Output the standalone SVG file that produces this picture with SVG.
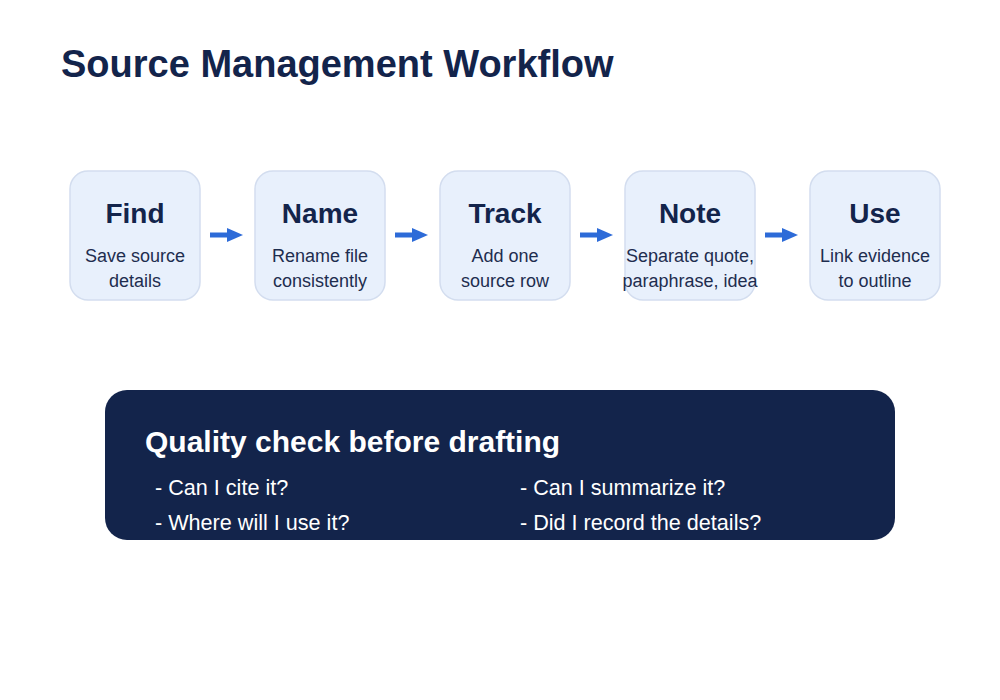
<svg xmlns="http://www.w3.org/2000/svg" width="1000" height="700" viewBox="0 0 1000 700">
  <defs>
    <style>
      .title { font-family: "Liberation Sans", Arial, sans-serif; font-weight: bold; font-size: 38px; fill: #13244b; }
      .node rect { fill: #e8f0fc; stroke: #d3ddef; stroke-width: 1.5; }
      .nt { font-family: "Liberation Sans", Arial, sans-serif; font-weight: bold; font-size: 28px; fill: #13244b; text-anchor: middle; }
      .ns { font-family: "Liberation Sans", Arial, sans-serif; font-size: 18px; fill: #1e2d4f; text-anchor: middle; }
      .conn line { stroke: #2d6bd8; stroke-width: 5; }
      .qt { font-family: "Liberation Sans", Arial, sans-serif; font-weight: bold; font-size: 30px; fill: #ffffff; }
      .qb { font-family: "Liberation Sans", Arial, sans-serif; font-size: 21.6px; fill: #ffffff; }
    </style>
    <marker id="ah" markerWidth="16" markerHeight="14" refX="0" refY="7" orient="auto" markerUnits="userSpaceOnUse">
      <path d="M0,0 L16,7 L0,14 Z" fill="#2d6bd8"/>
    </marker>
  </defs>
  <rect width="1000" height="700" fill="#ffffff"/>
  <text class="title" x="61" y="77">Source Management Workflow</text>

  <g id="node-find" class="node">
    <rect x="70" y="171" width="130" height="129" rx="18"/>
    <text class="nt" x="135" y="223">Find</text>
    <text class="ns" x="135" y="262">Save source</text>
    <text class="ns" x="135" y="287">details</text>
  </g>
  <g id="node-name" class="node">
    <rect x="255" y="171" width="130" height="129" rx="18"/>
    <text class="nt" x="320" y="223">Name</text>
    <text class="ns" x="320" y="262">Rename file</text>
    <text class="ns" x="320" y="287">consistently</text>
  </g>
  <g id="node-track" class="node">
    <rect x="440" y="171" width="130" height="129" rx="18"/>
    <text class="nt" x="505" y="223">Track</text>
    <text class="ns" x="505" y="262">Add one</text>
    <text class="ns" x="505" y="287">source row</text>
  </g>
  <g id="node-note" class="node">
    <rect x="625" y="171" width="130" height="129" rx="18"/>
    <text class="nt" x="690" y="223">Note</text>
    <text class="ns" x="690" y="262">Separate quote,</text>
    <text class="ns" x="690" y="287">paraphrase, idea</text>
  </g>
  <g id="node-use" class="node">
    <rect x="810" y="171" width="130" height="129" rx="18"/>
    <text class="nt" x="875" y="223">Use</text>
    <text class="ns" x="875" y="262">Link evidence</text>
    <text class="ns" x="875" y="287">to outline</text>
  </g>

  <g id="connectors" class="conn">
    <line x1="210" y1="235" x2="227" y2="235" marker-end="url(#ah)"/>
    <line x1="395" y1="235" x2="412" y2="235" marker-end="url(#ah)"/>
    <line x1="580" y1="235" x2="597" y2="235" marker-end="url(#ah)"/>
    <line x1="765" y1="235" x2="782" y2="235" marker-end="url(#ah)"/>
  </g>

  <g id="quality-check">
    <rect x="105" y="390" width="790" height="150" rx="22" fill="#13244b"/>
    <text class="qt" x="145" y="452">Quality check before drafting</text>
    <text class="qb" x="155" y="495">- Can I cite it?</text>
    <text class="qb" x="155" y="530">- Where will I use it?</text>
    <text class="qb" x="520" y="495">- Can I summarize it?</text>
    <text class="qb" x="520" y="530">- Did I record the details?</text>
  </g>
</svg>
